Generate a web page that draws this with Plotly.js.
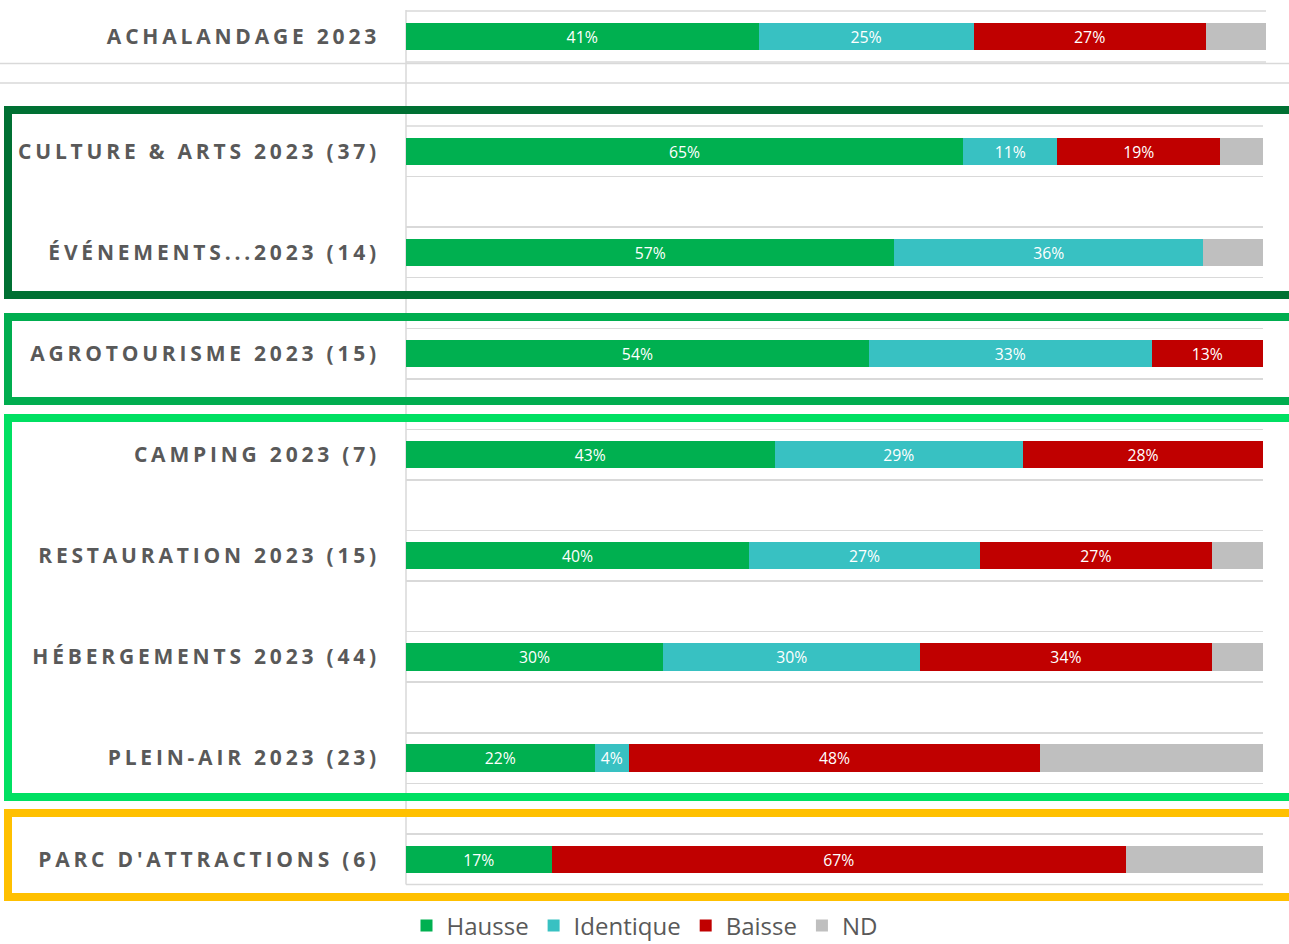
<!DOCTYPE html>
<html>
<head>
<meta charset="utf-8">
<script src="https://cdn.plot.ly/plotly-3.0.1.min.js"></script>
<style>
  html, body { margin: 0; padding: 0; background: #ffffff; }
  #chart { width: 1289px; height: 944px; }
  .ytick text, .y2tick text { letter-spacing: 3.8px; }
</style>
</head>
<body>
<div id="chart"></div>
<script>
// ---------- DATA ----------
const topCategory = ['ACHALANDAGE 2023'];
const topHausse = [41];
const topIdentique = [25];
const topBaisse = [27];
const topND = [7];

const categories = [
  'CULTURE & ARTS 2023 (37)',
  'ÉVÉNEMENTS...2023 (14)',
  'AGROTOURISME 2023 (15)',
  'CAMPING 2023 (7)',
  'RESTAURATION 2023 (15)',
  'HÉBERGEMENTS 2023 (44)',
  'PLEIN-AIR 2023 (23)',
  "PARC D'ATTRACTIONS (6)"
];
const hausse    = [65, 57, 54, 43, 40, 30, 22, 17];
const identique = [11, 36, 33, 29, 27, 30, 4, 0];
const baisse    = [19, 0, 13, 28, 27, 34, 48, 67];
const nd        = [5, 7, 0, 0, 6, 6, 26, 16];

const seriesNames = ['Hausse', 'Identique', 'Baisse', 'ND'];
const seriesColors = ['#00B050', '#38C1C2', '#C00000', '#BFBFBF'];

// ---------- BUILD ----------
const W = 1289, H = 944;
const px = x => x / W;
const py = y => 1 - y / H;

// category slots with blank spacer rows between the real categories
const slots = [];
categories.forEach((c, i) => {
  slots.push(c);
  if (i < categories.length - 1) slots.push(' '.repeat(i + 1));
});

const bottomSeries = [hausse, identique, baisse, nd];
const topSeries = [topHausse, topIdentique, topBaisse, topND];
const pct = (arr, show) => arr.map(v => (show && v > 0) ? v + '%' : '');
const barFont = { color: '#ffffff', size: 18.5, family: 'Open Sans' };

const traces = [];
seriesNames.forEach((name, k) => {
  const showText = k < 3;
  traces.push({
    type: 'bar', orientation: 'h', name: name, legendgroup: name,
    x: bottomSeries[k], y: categories, xaxis: 'x', yaxis: 'y',
    marker: { color: seriesColors[k], line: { width: 0 } },
    text: pct(bottomSeries[k], showText), textposition: 'inside',
    insidetextanchor: 'middle', textangle: 0, textfont: barFont,
    hoverinfo: 'skip'
  });
  traces.push({
    type: 'bar', orientation: 'h', name: name, legendgroup: name, showlegend: false,
    x: topSeries[k], y: topCategory, xaxis: 'x2', yaxis: 'y2',
    marker: { color: seriesColors[k], line: { width: 0 } },
    text: pct(topSeries[k], showText), textposition: 'inside',
    insidetextanchor: 'middle', textangle: 0, textfont: barFont,
    hoverinfo: 'skip'
  });
});

const labelFont = { family: 'Open Sans', size: 21, color: '#595959', weight: 'bold' };
const gridColor = '#D9D9D9';

function box(color, top, bottom) {
  return {
    type: 'rect', xref: 'paper', yref: 'paper', layer: 'above',
    x0: px(8), x1: px(1310), y0: py(bottom), y1: py(top),
    line: { color: color, width: 8 }, fillcolor: 'rgba(0,0,0,0)'
  };
}
function hline(y, x0, x1) {
  return { type: 'line', xref: 'paper', yref: 'paper', layer: 'below',
    x0: px(x0), x1: px(x1), y0: py(y), y1: py(y), line: { color: gridColor, width: 1.5 } };
}

const layout = {
  width: W, height: H,
  margin: { l: 0, r: 0, t: 0, b: 0, autoexpand: false },
  paper_bgcolor: '#ffffff', plot_bgcolor: 'rgba(0,0,0,0)',
  barmode: 'stack', bargap: 0.46,
  showlegend: true,
  legend: {
    orientation: 'h', x: 0.5, xanchor: 'center', y: py(926), yanchor: 'middle',
    font: { family: 'Open Sans', size: 24, color: '#595959' },
    traceorder: 'normal', itemclick: false, itemwidth: 30, tracegroupgap: 0
  },
  xaxis: {
    domain: [px(406), px(1263)], range: [0, 100], anchor: 'y',
    showgrid: false, zeroline: false, showticklabels: false, showline: false, fixedrange: true
  },
  yaxis: {
    domain: [py(884.5), py(126)], anchor: 'x', type: 'category',
    categoryorder: 'array', categoryarray: slots,
    range: [slots.length - 0.5, -0.5],
    tickson: 'boundaries', ticks: '', showgrid: true, gridcolor: gridColor, gridwidth: 1.5,
    zeroline: false, showline: false, tickfont: labelFont, ticklabelstandoff: 25, fixedrange: true
  },
  xaxis2: {
    domain: [px(406), px(1266)], range: [0, 100], anchor: 'y2',
    showgrid: false, zeroline: false, showticklabels: false, showline: false, fixedrange: true
  },
  yaxis2: {
    domain: [py(62), py(11)], anchor: 'x2', type: 'category',
    range: [0.5, -0.5],
    tickson: 'boundaries', ticks: '', showgrid: true, gridcolor: gridColor, gridwidth: 1.5,
    zeroline: false, showline: false, tickfont: labelFont, ticklabelstandoff: 25, fixedrange: true
  },
  shapes: [
    // vertical axis line
    { type: 'line', xref: 'paper', yref: 'paper', layer: 'below',
      x0: px(406), x1: px(406), y0: py(884.5), y1: py(10), line: { color: gridColor, width: 1.5 } },
    // grid boundaries (top/bottom of plot areas)
    hline(11, 406, 1266), hline(62, 406, 1266),
    hline(126, 406, 1263), hline(884.5, 406, 1263),
    // full-width separators
    hline(63.5, 0, 1289), hline(83, 0, 1289),
    // group boxes
    box('#007033', 110, 295),
    box('#00AD4F', 317, 401),
    box('#00E062', 418, 797),
    box('#FFC000', 813, 897)
  ]
};

Plotly.newPlot('chart', traces, layout, { displayModeBar: false, staticPlot: true });
</script>
</body>
</html>
